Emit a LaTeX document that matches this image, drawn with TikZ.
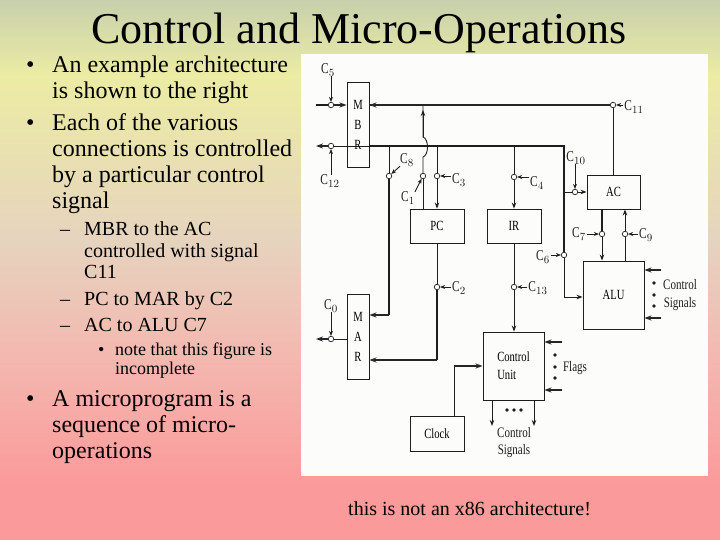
\documentclass[tikz,border=0pt]{standalone}
\usepackage{fontspec}
\setmainfont{Liberation Serif}
\newfontfamily\figfont[FakeStretch=0.76]{Liberation Serif}
\usetikzlibrary{arrows.meta, positioning, calc}

\definecolor{inkgray}{RGB}{30,30,30}
\definecolor{paperwhite}{RGB}{252,252,250}
\definecolor{bgtop}{RGB}{199,208,172}
\definecolor{bgyellow}{RGB}{236,236,164}
\definecolor{bgtan}{RGB}{230,212,190}
\definecolor{bgrose}{RGB}{243,184,176}
\definecolor{bgpink}{RGB}{251,154,154}
\pgfdeclareverticalshading{slidebg}{100bp}{
    color(0bp)=(bgpink);
    color(30bp)=(bgpink);
    color(42bp)=(bgrose);
    color(53bp)=(bgtan);
    color(68bp)=(bgyellow);
    color(75bp)=(bgtop);
    color(100bp)=(bgtop)
}
\tikzset{
    x=1pt, y=-1pt,
    block/.style={draw=inkgray, line width=0.9pt, fill=paperwhite, inner sep=0pt, font=\figfont\fontsize{14}{16}\selectfont},
    sw/.style={circle, draw=inkgray, line width=0.7pt, fill=white, inner sep=0pt, minimum size=5.5pt},
    sig/.style={font=\figfont\fontsize{15}{16}\selectfont, inner sep=0pt, text=inkgray},
    figtxt/.style={font=\figfont\fontsize{14.5}{16}\selectfont, inner sep=0pt, text=inkgray},
    wire/.style={draw=inkgray, line width=0.9pt},
    bus/.style={draw=black!85, line width=1.5pt},
    arr/.style={wire, -{Stealth[length=6pt,width=4.5pt]}},
    busarr/.style={bus, -{Stealth[length=7pt,width=5pt]}},
    ctl/.style={wire, -{Stealth[length=5pt,width=4pt]}},
    blob/.style={circle, fill=inkgray, inner sep=0pt, minimum size=3.8pt},
    lvlone/.style={anchor=base west, inner sep=0pt, font=\fontsize{24}{24}\selectfont},
    lvltwo/.style={anchor=base west, inner sep=0pt, font=\fontsize{20}{20}\selectfont},
    lvlthree/.style={anchor=base west, inner sep=0pt, font=\fontsize{18}{18}\selectfont},
}

\begin{document}
\begin{tikzpicture}
    \useasboundingbox (0,0) rectangle (720,540);
    \shade[shading=slidebg] (0,0) rectangle (720,540);

    % title and left column
    \node[anchor=base, inner sep=0pt, font=\fontsize{44}{44}\selectfont] (title) at (359,44) {Control and Micro-Operations};
    \node[lvlone] (b1) at (26,73) {•};
    \node[lvlone] (t1) at (52,73) {An example architecture};
    \node[lvlone] (t2) at (52,99) {is shown to the right};
    \node[lvlone] (b2) at (26,131) {•};
    \node[lvlone] (t3) at (52,131) {Each of the various};
    \node[lvlone] (t4) at (52,157) {connections is controlled};
    \node[lvlone] (t5) at (52,183) {by a particular control};
    \node[lvlone] (t6) at (52,209) {signal};
    \node[lvltwo] (d1) at (60,236) {–};
    \node[lvltwo] (t7) at (84,236) {MBR to the AC};
    \node[lvltwo] (t8) at (84,257) {controlled with signal};
    \node[lvltwo] (t9) at (84,278) {C11};
    \node[lvltwo] (d2) at (60,305) {–};
    \node[lvltwo] (t10) at (84,305) {PC to MAR by C2};
    \node[lvltwo] (d3) at (60,331) {–};
    \node[lvltwo] (t11) at (84,331) {AC to ALU C7};
    \node[lvlthree] (b3) at (98,355) {•};
    \node[lvlthree] (t12) at (115,355) {note that this figure is};
    \node[lvlthree] (t13) at (115,374) {incomplete};
    \node[lvlone] (b4) at (26,406) {•};
    \node[lvlone] (t14) at (52,406) {A microprogram is a};
    \node[lvlone] (t15) at (52,432) {sequence of micro-};
    \node[lvlone] (t16) at (52,458) {operations};
    \node[anchor=base west, inner sep=0pt, font=\fontsize{20}{20}\selectfont] (note) at (348,515) {this is not an x86 architecture!};

    % scanned figure
    \fill[paperwhite] (301,54) rectangle (708,476);

    % blocks
    \node[block, minimum width=22pt, minimum height=85pt, align=center] (mbr) at (358,124.5) {M\\[4pt]B\\[4pt]R};
    \node[block, minimum width=22pt, minimum height=85pt, align=center] (mar) at (358,336.5) {M\\[4pt]A\\[4pt]R};
    \node[block, minimum width=54pt, minimum height=34pt] (pc) at (437,226) {PC};
    \node[block, minimum width=54pt, minimum height=34pt] (ir) at (514,226) {IR};
    \node[block, minimum width=53pt, minimum height=34pt] (ac) at (613.5,192) {AC};
    \node[block, minimum width=61pt, minimum height=68pt] (alu) at (613.5,295) {ALU};
    \node[block, minimum width=61pt, minimum height=68pt, align=left] (cu) at (513.5,366) {Control\\[2pt]Unit};
    \node[block, minimum width=54pt, minimum height=35pt] (clock) at (437,433.5) {Clock};

    % switches
    \node[sw] (s5) at (331,105) {};
    \node[sw] (s12) at (331,146) {};
    \node[sw] (s0) at (331,339) {};
    \node[sw] (s8) at (389,176) {};
    \node[sw] (s1) at (423,176) {};
    \node[sw] (s3) at (437,176) {};
    \node[sw] (s4) at (514,177) {};
    \node[sw] (s2) at (437,287) {};
    \node[sw] (s13) at (514,287) {};
    \node[sw] (s6) at (564,255) {};
    \node[sw] (s10) at (575,192) {};
    \node[sw] (s11) at (613,105) {};
    \node[sw] (s7) at (602,234) {};
    \node[sw] (s9) at (625,234) {};

    % signal names
    \foreach \nm/\num/\px/\py in {c5/5/328/70, c12/12/330/181, c0/0/331/306, c8/8/407/160, c1/1/408/198,
        c3/3/459/180, c4/4/537/183, c2/2/459/288, c13/13/538/288, c6/6/543/257,
        c10/10/576/158, c11/11/634/107, c7/7/579/234, c9/9/646/235}
        \node[sig] (\nm) at (\px,\py) {C$_{\num}$};

    % memory side
    \coordinate (inL) at (316,105);
    \coordinate (outL) at (316,146);
    \coordinate (marL) at (316,339);
    \draw[wire, line width=1.4pt] (inL) -- (s5);
    \draw[busarr] (s5) -- (s5 -| mbr.west);
    \draw[busarr] (s12) -- (outL);
    \draw[wire] (mbr.east |- s12) -- (s12);
    \draw[busarr] (s0) -- (marL);
    \draw[wire] (mar.west |- s0) -- (s0);
    \draw[ctl] (s5 |- c5.south) -- (s5);
    \draw[ctl] (s12 |- c12.north) -- (s12);
    \draw[ctl] (s0 |- c0.south) -- (s0);

    % buses
    \coordinate (rail) at (564,146);
    \coordinate (aluIn) at (564,297);
    \draw[bus] (s11) -- (mbr.east |- s11);
    \draw[busarr] (425,105) -- (mbr.east |- s11);
    \draw[wire, line width=1.2pt] (mbr.east |- s12) -- (rail) -- (s6);
    \draw[arr] (s6) -- (aluIn) -- (aluIn -| alu.west);
    \draw[wire] (s11) -- (s11 |- ac.north);

    % branches from the lower bus
    \coordinate (tap8) at (s8 |- rail);
    \coordinate (tap3) at (s3 |- rail);
    \coordinate (tap4) at (s4 |- rail);
    \coordinate (mar1) at (389,315);
    \coordinate (mar2) at (437,360);
    \draw[wire] (tap8) -- (s8);
    \draw[wire, line width=1.2pt] (s8) -- (mar1);
    \draw[busarr] (mar1) -- (mar1 -| mar.east);
    \draw[wire] (tap3) -- (s3);
    \draw[arr] (s3) -- (s3 |- pc.north);
    \draw[wire] (tap4) -- (s4);
    \draw[arr] (s4) -- (s4 |- ir.north);
    \draw[wire] (pc.south) -- (s2);
    \draw[wire, line width=1.2pt] (s2) -- (mar2);
    \draw[busarr] (mar2) -- (mar2 -| mar.east);
    \draw[wire] (ir.south) -- (s13);
    \draw[arr] (s13) -- (s13 |- cu.north);

    % PC to bus, hop over the lower bus
    \coordinate (hopB) at (423,157);
    \coordinate (hopT) at (423,137);
    \draw[wire] (s1 |- pc.north) -- (s1);
    \draw[wire] (s1) -- (hopB) .. controls (429,155) and (429,139) .. (hopT) -- (423,105);
    \draw[arr] (hopT) -- (423,110);

    % AC and ALU
    \draw[wire] (s6 |- s10) -- (s10);
    \draw[arr] (s10) -- (ac.west);
    \draw[wire, line width=1.2pt] (s7 |- ac.south) -- (s7);
    \draw[arr] (s7) -- (s7 |- alu.north);
    \draw[wire] (s9 |- alu.north) -- (s9);
    \draw[arr] (s9) -- (s9 |- ac.south);

    % control inputs
    \draw[ctl] (s3 -| c3.west) ++(-1,0) -- (s3);
    \draw[ctl] (s4 -| c4.west) ++(-1,0) -- (s4);
    \draw[ctl] (s2 -| c2.west) ++(-1,0) -- (s2);
    \draw[ctl] (s13 -| c13.west) ++(-1,0) -- (s13);
    \draw[ctl] (s6 -| c6.east) ++(1,0) -- (s6);
    \draw[ctl] (s10 |- c10.south) -- (s10);
    \draw[ctl] (s11 -| c11.west) ++(-1,0) -- (s11);
    \draw[ctl] (s7 -| c7.east) ++(1,0) -- (s7);
    \draw[ctl] (s9 -| c9.west) ++(-1,0) -- (s9);
    \draw[ctl] (c8.south west) -- (s8);
    \draw[ctl] (c1.north east) -- (s1);

    % ALU signals
    \coordinate (aluA) at (661,270);
    \coordinate (aluB) at (661,318);
    \draw[busarr] (aluA) -- (aluA -| alu.east);
    \draw[busarr] (aluB) -- (aluB -| alu.east);
    \foreach \py in {283,295,306}
        \node[blob] (aluDot\py) at (654,\py) {};
    \node[figtxt] (aluctl) at (680,285) {Control};
    \node[figtxt] (alusig) at (680,304) {Signals};

    % flags
    \coordinate (flagA) at (562,342);
    \coordinate (flagB) at (562,390);
    \draw[busarr] (flagA) -- (flagA -| cu.east);
    \draw[busarr] (flagB) -- (flagB -| cu.east);
    \foreach \py in {355,367,378}
        \node[blob] (flagDot\py) at (555,\py) {};
    \node[figtxt] (flags) at (575,368) {Flags};

    % clock and outputs
    \coordinate (clkUp) at (454,366);
    \draw[wire] (clock.north -| clkUp) -- (clkUp);
    \draw[busarr] (clkUp) -- (clkUp -| cu.west);
    \coordinate (cuOutA) at (492,426);
    \coordinate (cuOutB) at (534,426);
    \draw[arr] (cu.south -| cuOutA) -- (cuOutA);
    \draw[arr] (cu.south -| cuOutB) -- (cuOutB);
    \foreach \px in {507,514,521}
        \node[blob] (cuDot\px) at (\px,410) {};
    \node[figtxt] (cuctl) at (514,433) {Control};
    \node[figtxt] (cusig) at (514,451) {Signals};
\end{tikzpicture}
\end{document}
